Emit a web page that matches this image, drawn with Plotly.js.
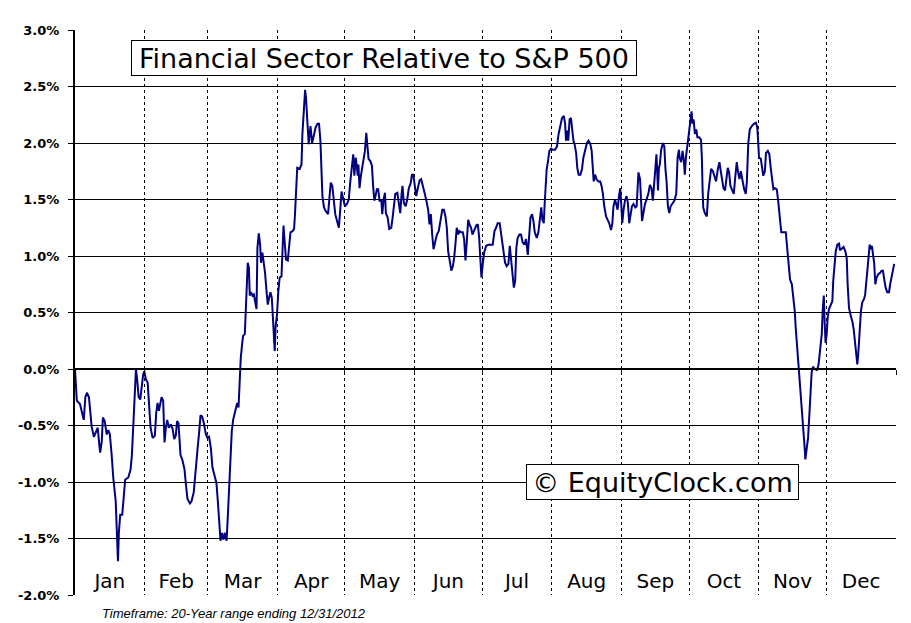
<!DOCTYPE html>
<html>
<head>
<meta charset="utf-8">
<script src="https://cdn.plot.ly/plotly-3.0.1.min.js"></script>
<style>html,body{margin:0;padding:0;background:#fff;}#chart{width:911px;height:623px;}</style>
</head>
<body>
<div id="chart"></div>
<script>
// Day of year (0 = Jan 1, 365 = Dec 31)
const days = [
0,0.3,0.8,2.2,3.1,3.9,4.6,5.3,6.2,7.0,
7.4,8.4,9.3,10.1,10.8,11.2,11.9,12.4,13.2,14.1,
14.8,15.5,16.3,17.0,18.1,18.6,19.1,19.5,20.1,21.0,
21.8,22.3,23.7,24.7,25.3,25.9,26.5,27.1,27.7,28.3,
29.0,29.6,30.3,30.8,31.5,32.3,32.9,33.6,34.5,35.5,
36.1,36.7,37.3,37.9,38.5,39.2,39.8,40.4,41.0,41.7,
42.6,43.4,44.1,44.8,45.4,46.0,46.9,47.8,48.7,49.3,
50.0,51.1,51.8,52.8,53.4,54.0,54.6,55.2,55.8,56.5,
57.3,58.2,58.9,59.6,60.4,61.1,62.0,62.9,63.5,64.1,
64.7,65.4,66.0,66.7,67.4,67.9,68.5,69.1,69.7,70.3,
71.2,72.1,72.7,73.3,73.7,74.3,74.7,75.5,75.9,76.4,
76.8,77.3,77.7,78.3,78.9,79.5,80.1,80.7,81.1,81.7,
82.3,82.7,83.3,83.9,84.5,85.1,85.7,86.3,86.9,87.5,
87.9,88.4,88.8,89.2,89.8,90.4,91.0,91.8,92.2,92.7,
93.2,93.8,94.6,95.1,95.8,96.7,97.4,97.8,98.1,98.3,
98.8,99.9,100.7,101.1,101.7,102.3,102.7,103.2,103.9,104.7,
105.4,106.1,107.0,107.8,108.5,109.1,109.5,110.0,110.7,111.4,
112.5,113.1,113.7,114.4,115.1,115.7,116.5,117.3,118.0,118.5,
119.1,120.0,120.9,121.7,122.4,123.1,123.7,124.2,124.8,125.2,
125.7,126.0,126.5,127.1,127.7,128.3,128.9,129.5,130.0,130.5,
131.3,132.0,132.6,133.1,133.6,134.2,134.8,135.4,136.2,136.6,
137.2,137.8,138.2,139.0,139.7,140.6,141.2,141.8,142.4,143.3,
143.9,144.6,145.2,145.6,146.2,147.0,147.7,148.4,149.2,149.8,
150.4,151.0,151.7,152.4,153.2,153.9,154.6,155.4,156.2,157.0,
157.6,158.2,158.8,159.4,160.2,160.9,161.7,162.5,163.3,164.0,
164.7,165.3,165.9,166.5,167.3,168.0,168.6,169.2,169.7,170.4,
170.9,171.7,172.4,173.0,173.6,174.2,174.8,175.4,176.1,176.7,
177.6,178.4,179.1,179.7,180.1,180.7,181.3,181.9,182.8,183.9,
185.7,186.5,187.2,187.9,188.8,189.4,190.2,190.6,191.2,191.9,
192.7,193.3,193.9,194.5,195.1,195.7,196.2,196.8,197.6,198.3,
199.0,199.8,200.5,201.3,201.9,202.5,203.2,203.8,204.4,205.3,
206.0,206.8,207.3,207.8,208.4,208.8,209.3,209.7,210.3,210.9,
211.7,212.4,213.4,214.3,215.0,215.8,216.5,217.3,217.9,218.3,
218.9,219.3,219.9,220.5,221.0,221.6,222.1,222.8,223.3,223.9,
224.7,225.4,226.0,226.7,227.6,228.3,229.1,229.7,230.1,230.6,
231.2,231.8,232.7,233.5,234.1,234.7,235.3,236.1,236.8,237.5,
238.3,238.9,239.4,240.1,240.6,241.2,241.8,242.4,242.9,243.3,
243.9,244.5,245.2,245.8,246.4,247.0,247.6,248.3,249.1,249.7,
250.1,250.5,251.2,251.6,252.1,252.7,253.4,254.1,254.9,255.6,
256.3,256.9,257.5,258.1,258.5,259.2,259.6,260.0,260.6,261.4,
262.0,262.5,263.0,263.6,264.2,264.8,265.6,266.5,267.3,267.9,
268.5,268.8,269.5,270.1,270.7,271.1,271.6,272.3,272.9,273.5,
274.1,274.5,275.0,275.6,276.2,276.7,277.5,278.3,278.7,279.0,
279.3,280.0,280.9,281.5,282.1,282.8,283.6,284.3,285.0,285.8,
286.5,287.1,287.7,288.3,289.0,289.6,290.2,290.8,291.4,292.2,
292.9,293.5,294.2,294.8,295.4,296.0,296.7,297.5,298.2,298.7,
299.3,300.0,300.9,301.8,302.7,303.3,303.7,304.1,304.9,305.5,
306.0,306.7,307.2,308.0,308.7,309.3,309.9,310.5,311.2,312.0,
312.6,313.3,314.0,316.0,316.4,316.9,317.5,317.9,318.7,319.4,
320.0,320.4,321.0,321.6,322.2,322.8,323.4,324.0,324.4,324.7,
325.3,325.9,326.5,327.1,327.5,328.1,328.9,329.8,330.5,330.9,
331.4,332.0,332.4,332.9,333.3,333.7,334.2,334.6,335.2,336.0,
336.7,337.1,337.6,338.2,338.9,339.7,340.1,340.9,341.7,342.5,
343.1,343.5,344.1,344.9,345.6,346.2,346.8,347.3,347.8,348.2,
348.8,349.4,350.0,350.8,351.3,351.8,352.2,352.7,353.3,353.9,
354.3,354.8,355.3,355.8,356.4,357.1,357.9,358.6,359.2,359.8,
360.4,361.1,361.9,362.4,363.0,363.6,364.2
];
// Financial sector performance relative to S&P 500 (%)
const relPerf = [
0,-0.08,-0.28,-0.31,-0.39,-0.45,-0.25,-0.21,-0.25,-0.39,
-0.51,-0.60,-0.56,-0.52,-0.67,-0.74,-0.64,-0.43,-0.46,-0.58,
-0.54,-0.58,-0.76,-0.96,-1.17,-1.55,-1.70,-1.45,-1.29,-1.29,
-1.11,-0.98,-0.96,-0.89,-0.76,-0.46,-0.17,0.00,-0.11,-0.25,
-0.27,-0.14,-0.05,-0.02,-0.09,-0.12,-0.34,-0.52,-0.61,-0.59,
-0.39,-0.30,-0.37,-0.31,-0.25,-0.28,-0.65,-0.52,-0.45,-0.52,
-0.49,-0.53,-0.62,-0.59,-0.46,-0.48,-0.76,-0.81,-0.89,-1.02,
-1.15,-1.19,-1.17,-1.09,-0.93,-0.76,-0.68,-0.56,-0.41,-0.42,
-0.48,-0.58,-0.61,-0.60,-0.70,-0.87,-0.93,-1.01,-1.17,-1.35,
-1.52,-1.45,-1.51,-1.45,-1.52,-1.32,-1.02,-0.70,-0.55,-0.45,
-0.37,-0.30,-0.34,-0.05,0.10,0.22,0.29,0.31,0.47,0.73,
0.94,0.90,0.65,0.68,0.65,0.66,0.60,0.53,1.07,1.20,
1.10,0.94,1.03,0.94,0.85,0.70,0.57,0.63,0.68,0.63,
0.47,0.28,0.16,0.38,0.48,0.69,0.81,0.82,1.01,1.27,
1.13,0.97,0.96,1.06,1.21,1.22,1.24,1.37,1.55,1.68,
1.78,1.77,1.81,2.08,2.34,2.47,2.40,2.22,1.99,2.15,
2.00,2.06,2.14,2.17,2.17,2.02,1.78,1.53,1.43,1.40,
1.37,1.49,1.65,1.62,1.49,1.37,1.31,1.25,1.43,1.57,
1.52,1.44,1.46,1.50,1.66,1.81,1.90,1.71,1.87,1.81,
1.71,1.81,1.60,1.71,1.78,1.87,1.93,2.09,1.96,1.86,
1.84,1.80,1.60,1.49,1.53,1.59,1.59,1.49,1.49,1.37,
1.50,1.56,1.38,1.34,1.24,1.25,1.34,1.47,1.55,1.56,
1.49,1.38,1.55,1.62,1.47,1.44,1.50,1.60,1.64,1.72,
1.72,1.62,1.53,1.60,1.67,1.68,1.63,1.56,1.49,1.41,
1.28,1.37,1.19,1.06,1.13,1.19,1.22,1.34,1.41,1.41,
1.35,1.25,1.04,0.97,0.87,0.91,0.99,1.12,1.25,1.19,
1.22,1.21,1.21,1.15,0.96,1.13,1.32,1.28,1.25,1.19,
1.24,1.27,1.28,1.16,1.01,0.81,0.93,1.03,1.09,1.10,
1.10,1.22,1.25,1.29,1.29,1.19,1.10,0.99,0.94,0.91,
0.93,1.09,0.96,0.78,0.72,0.78,1.07,1.16,1.19,1.19,
1.12,1.10,1.15,1.01,1.16,1.34,1.37,1.31,1.21,1.16,
1.21,1.34,1.43,1.32,1.29,1.46,1.60,1.77,1.84,1.93,
1.95,1.94,1.94,1.97,2.08,2.17,2.22,2.24,2.17,2.02,
2.11,2.02,2.21,2.22,2.11,2.02,1.99,1.91,1.78,1.72,
1.72,1.77,1.87,1.93,2.00,2.02,1.99,1.93,1.75,1.66,
1.72,1.68,1.66,1.66,1.62,1.55,1.44,1.35,1.32,1.29,
1.23,1.29,1.44,1.50,1.46,1.41,1.52,1.60,1.44,1.29,
1.41,1.49,1.53,1.47,1.29,1.35,1.44,1.46,1.43,1.44,
1.58,1.74,1.68,1.44,1.31,1.38,1.46,1.50,1.55,1.63,
1.60,1.49,1.68,1.77,1.90,1.58,1.78,1.81,1.94,2.00,
1.97,1.77,1.66,1.44,1.38,1.44,1.47,1.49,1.55,1.87,
1.94,1.87,1.83,1.93,1.84,1.72,1.87,2.00,2.08,2.17,
2.28,2.17,2.21,2.08,2.12,2.05,2.05,2.03,1.87,1.60,
1.43,1.38,1.35,1.55,1.68,1.77,1.75,1.71,1.66,1.77,
1.83,1.75,1.69,1.60,1.58,1.69,1.78,1.74,1.62,1.58,
1.55,1.69,1.83,1.74,1.68,1.75,1.66,1.59,1.55,1.66,
1.99,2.12,2.15,2.17,2.18,2.14,2.02,1.87,1.86,1.75,
1.71,1.75,1.91,1.93,1.90,1.78,1.69,1.59,1.60,1.59,
1.49,1.34,1.21,1.21,1.13,1.01,0.93,0.79,0.75,0.63,
0.51,0.37,0.22,0.04,-0.14,-0.25,-0.40,-0.55,-0.70,-0.80,
-0.71,-0.61,-0.40,-0.17,-0.03,0.02,0.00,-0.01,0.03,0.10,
0.20,0.31,0.51,0.65,0.40,0.23,0.31,0.45,0.53,0.57,
0.60,0.78,0.93,1.04,1.10,1.11,1.05,1.07,1.08,1.04,
0.98,0.75,0.54,0.47,0.42,0.35,0.25,0.16,0.04,0.13,
0.34,0.51,0.59,0.62,0.66,0.78,0.91,1.01,1.10,1.06,
1.09,1.01,0.94,0.75,0.81,0.84,0.85,0.87,0.87,0.79,
0.72,0.68,0.68,0.75,0.81,0.88,0.93
];

const monthStarts = [0,31,59,90,120,151,181,212,243,273,304,334,365];
const monthMids = [15.5,45,74.5,105,135.5,166,196.5,227.5,258,288.5,319,349.5];
const monthLabels = ['Jan','Feb','Mar','Apr','May','Jun','Jul','Aug','Sep','Oct','Nov','Dec'];
const yTickVals = [-2,-1.5,-1,-0.5,0,0.5,1,1.5,2,2.5,3];
const yTickText = ['-2.0%','-1.5%','-1.0%','-0.5%','0.0%','0.5%','1.0%','1.5%','2.0%','2.5%','3.0%'];
const yGridVals = [-1.5,-1,-0.5,0.5,1,1.5,2,2.5];

const titleText = 'Financial Sector Relative to S&amp;P 500';
const brandText = '\u00A9 EquityClock.com';
const footText = 'Timeframe: 20-Year range ending 12/31/2012';

const traces = [
  {x: days, y: relPerf, type: 'scatter', mode: 'lines',
   line: {color: '#000080', width: 2}, xaxis: 'x', yaxis: 'y',
   hoverinfo: 'skip', showlegend: false},
  {x: [], y: [], type: 'scatter', mode: 'lines', xaxis: 'x2', yaxis: 'y2',
   showlegend: false, hoverinfo: 'skip'}
];

const layout = {
  width: 911, height: 623,
  margin: {l: 75, r: 15, t: 30, b: 28, pad: 0},
  paper_bgcolor: '#ffffff', plot_bgcolor: '#ffffff',
  showlegend: false,
  font: {family: 'DejaVu Sans', color: '#000'},
  xaxis: {
    range: [0, 365], anchor: 'free', position: 0.05,
    tickmode: 'array', tickvals: monthMids, ticktext: monthLabels,
    ticks: '', showline: false, showgrid: false, zeroline: false,
    tickfont: {family: 'DejaVu Sans', size: 20, color: '#000'},
    ticklabelstandoff: 0, fixedrange: true
  },
  xaxis2: {
    range: [0, 365], overlaying: 'x', anchor: 'free', position: 0.4,
    tickmode: 'array', tickvals: monthStarts,
    ticks: 'outside', ticklen: 5, tickwidth: 1, tickcolor: '#000',
    showticklabels: false, showline: true, linewidth: 2, linecolor: '#000',
    showgrid: true, gridcolor: '#000', gridwidth: 1, griddash: '3px,3px',
    zeroline: false, layer: 'above traces'
  },
  yaxis: {
    range: [-2, 3], tickmode: 'array', tickvals: yTickVals, ticktext: yTickText,
    ticks: 'outside', ticklen: 5, tickwidth: 1, tickcolor: '#000',
    showline: true, linewidth: 2, linecolor: '#000',
    showgrid: false, zeroline: false,
    tickfont: {family: 'DejaVu Sans', size: 13, weight: 'bold', color: '#000'},
    ticklabelstandoff: 6
  },
  yaxis2: {
    range: [-2, 3], overlaying: 'y', anchor: 'x',
    tickmode: 'array', tickvals: yGridVals,
    showticklabels: false, ticks: '', showline: false,
    showgrid: true, gridcolor: '#000', gridwidth: 1, zeroline: false
  },
  annotations: [
    {text: titleText, xref: 'paper', yref: 'paper', x: 0.3764, y: 0.9504,
     xanchor: 'center', yanchor: 'middle', showarrow: false,
     font: {family: 'DejaVu Sans', size: 27, color: '#000'},
     bgcolor: '#ffffff', bordercolor: '#000', borderwidth: 1, borderpad: 1,
     width: 502, height: 32},
    {text: brandText, xref: 'paper', yref: 'paper', x: 0.7156, y: 0.2,
     xanchor: 'center', yanchor: 'middle', showarrow: false,
     font: {family: 'DejaVu Sans', size: 27, color: '#000'},
     bgcolor: '#ffffff', bordercolor: '#000', borderwidth: 1, borderpad: 1,
     width: 269, height: 32},
    {text: '<i>' + footText + '</i>', xref: 'paper', yref: 'paper', x: 0.0305, y: -0.0336,
     xanchor: 'left', yanchor: 'middle', showarrow: false,
     font: {family: 'Liberation Sans', size: 13, color: '#000'}}
  ]
};

Plotly.newPlot('chart', traces, layout, {displayModeBar: false, staticPlot: true});
</script>
</body>
</html>
